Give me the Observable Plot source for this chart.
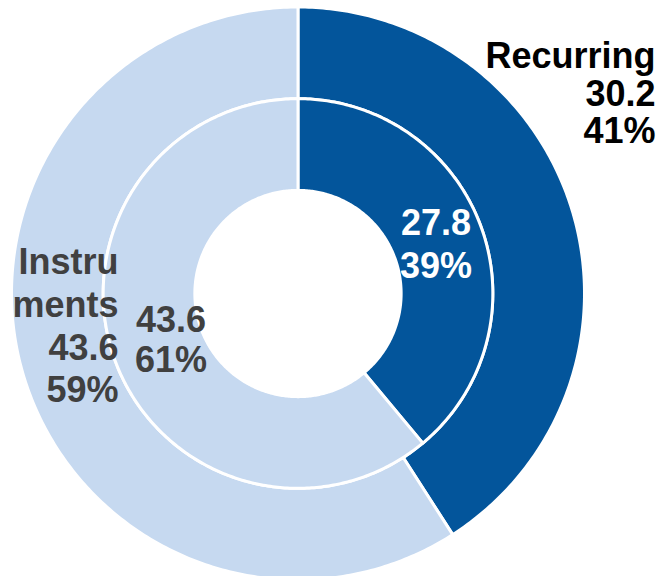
<!DOCTYPE html>
<html>
<head>
<meta charset="utf-8">
<script src="https://cdn.jsdelivr.net/npm/d3@7"></script>
<script src="https://cdn.jsdelivr.net/npm/@observablehq/plot@0.6"></script>
<style>
  html, body { margin: 0; padding: 0; background: #ffffff; }
  #chart svg { display: block; }
</style>
</head>
<body>
<div id="chart"></div>
<script>
// ---- Data ----
const categories = ["Recurring", "Instruments"];
const outerValues = [30.2, 43.6];
const innerValues = [27.8, 43.6];
const outerPct = ["41%", "59%"];
const innerPct = ["39%", "61%"];
const outerNames = ["Recurring", "Instru\nments"];
const sliceColors = ["#03559B", "#C6D9F0"];

// ---- Geometry (radii as fraction of outer radius) ----
const R_OUTER = 1.0, R_MID = 0.68, R_HOLE = 0.36;

function ringPolygons(values, r0, r1, ring) {
  const pie = d3.pie().sort(null).value(d => d)(values);
  const pts = [];
  pie.forEach((p, i) => {
    const n = Math.max(8, Math.ceil((p.endAngle - p.startAngle) * 80));
    const key = ring + "-" + categories[i];
    for (let k = 0; k <= n; k++) {
      const a = p.startAngle + (p.endAngle - p.startAngle) * k / n;
      pts.push({key, x: r1 * Math.sin(a), y: r1 * Math.cos(a), color: sliceColors[i]});
    }
    for (let k = n; k >= 0; k--) {
      const a = p.startAngle + (p.endAngle - p.startAngle) * k / n;
      pts.push({key, x: r0 * Math.sin(a), y: r0 * Math.cos(a), color: sliceColors[i]});
    }
  });
  return {pie, pts};
}

const outer = ringPolygons(outerValues, R_MID, R_OUTER, "outer");
const inner = ringPolygons(innerValues, R_HOLE, R_MID, "inner");

// inner ring labels at slice centroids
const rMidInner = (R_HOLE + R_MID) / 2;
const innerLabels = inner.pie.map((p, i) => {
  const a = (p.startAngle + p.endAngle) / 2;
  return {
    x: rMidInner * Math.sin(a),
    y: rMidInner * Math.cos(a),
    text: innerValues[i].toFixed(1) + "\n" + innerPct[i],
    i
  };
});

const font = "'Liberation Sans', Arial, Helvetica, sans-serif";

const plot = Plot.plot({
  width: 664,
  height: 576,
  margin: 0,
  style: {background: "#ffffff", fontFamily: font},
  x: {domain: [-1, 1], range: [11, 584], axis: null},
  y: {domain: [-1, 1], range: [579.5, 6.5], axis: null},
  color: {type: "identity"},
  marks: [
    Plot.line(outer.pts, {x: "x", y: "y", z: "key", fill: "color", stroke: "#ffffff", strokeWidth: 3, curve: "linear-closed"}),
    Plot.line(inner.pts, {x: "x", y: "y", z: "key", fill: "color", stroke: "#ffffff", strokeWidth: 3, curve: "linear-closed"}),
    // inner: Recurring
    Plot.text([innerLabels[0]], {x: "x", y: "y", text: "text", fill: "#ffffff", fontSize: 36, fontWeight: "bold", lineHeight: 1.19, lineAnchor: "middle", dx: -2, dy: 0}),
    // inner: Instruments
    Plot.text([innerLabels[1]], {x: "x", y: "y", text: "text", fill: "#404040", fontSize: 36, fontWeight: "bold", lineHeight: 1.11, lineAnchor: "middle", dx: 13, dy: -5}),
    // outer: Recurring
    Plot.text([0], {frameAnchor: "top-right", text: d => outerNames[d] + "\n" + outerValues[d].toFixed(1) + "\n" + outerPct[d], textAnchor: "end", lineAnchor: "top", fill: "#000000", fontSize: 36, fontWeight: "bold", lineHeight: 1.04, dx: -9, dy: 41}),
    // outer: Instruments
    Plot.text([1], {frameAnchor: "top-left", text: d => outerNames[d] + "\n" + outerValues[d].toFixed(1) + "\n" + outerPct[d], textAnchor: "end", lineAnchor: "top", fill: "#404040", fontSize: 36, fontWeight: "bold", lineHeight: 1.19, dx: 118, dy: 243})
  ]
});

document.getElementById("chart").appendChild(plot);
</script>
</body>
</html>
